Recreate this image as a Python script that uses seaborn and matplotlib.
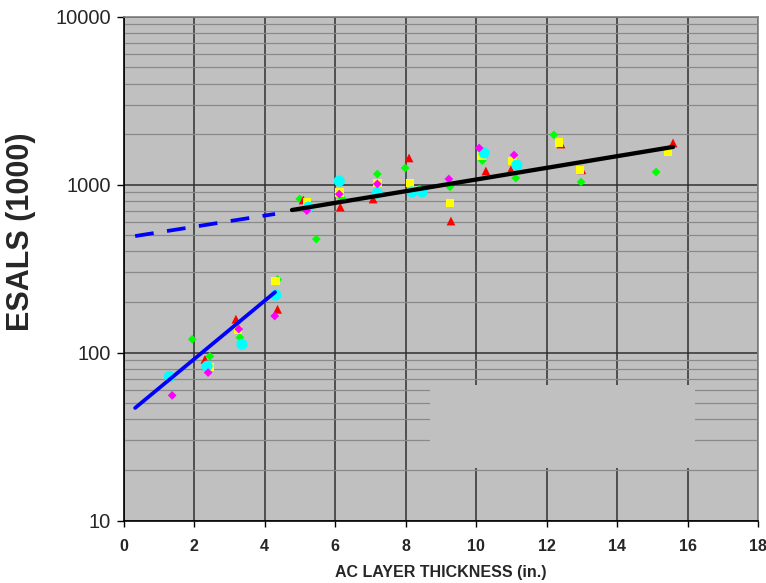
import matplotlib
matplotlib.use("Agg")
import matplotlib.pyplot as plt
import seaborn as sns
import numpy as np
from matplotlib.patches import Rectangle
from matplotlib.ticker import FixedLocator, LogLocator, NullFormatter, FixedFormatter

# ---- data ----
green_x = [1.95, 2.45, 3.30, 4.37, 5.00, 5.47, 6.20, 7.20, 7.99, 8.40, 9.26, 10.18, 11.13, 12.21, 12.98, 15.11]
green_y = [120, 95, 123, 272, 821, 474, 830, 1157, 1256, 940, 970, 1390, 1095, 1977, 1037, 1189]

red_x = [2.31, 3.19, 4.37, 5.10, 6.15, 7.08, 8.10, 9.29, 10.28, 10.99, 12.41, 13.00, 15.59]
red_y = [91, 158, 181, 810, 735, 821, 1442, 607, 1205, 1225, 1745, 1225, 1771]

yellow_x = [2.45, 3.25, 4.32, 5.20, 6.12, 7.20, 8.13, 9.26, 10.15, 11.03, 12.35, 12.95, 15.45]
yellow_y = [82, 136, 266, 780, 900, 1022, 1022, 777, 1480, 1380, 1780, 1225, 1565]

cyan_x = [1.30, 2.37, 3.36, 4.32, 5.25, 6.12, 7.20, 8.18, 8.47, 10.23, 11.16]
cyan_y = [72, 83, 112, 220, 735, 1050, 890, 905, 905, 1543, 1309]

magenta_x = [1.38, 2.40, 3.27, 4.29, 5.20, 6.12, 7.20, 9.23, 10.09, 11.08]
magenta_y = [55.6, 76, 138, 165, 700, 879, 1010, 1080, 1652, 1501]

blue_x = [0.33, 4.30]
blue_y = [46.8, 229]
dash_x = [0.33, 4.30]
dash_y = [494, 669]
black_x = [4.78, 15.59]
black_y = [706, 1677]

x_ticks = [0, 2, 4, 6, 8, 10, 12, 14, 16, 18]
y_ticks = [10, 100, 1000, 10000]
y_tick_labels = ["10", "100", "1000", "10000"]

# ---- figure ----
sns.set_theme(style="white")
plt.rcParams['font.family'] = ['Liberation Sans', 'DejaVu Sans']

fig = plt.figure(figsize=(7.66, 5.83), dpi=100)
ax = fig.add_axes([123.5/766, 1-520.5/583, (758-123.5)/766, (520.5-16.7)/583])
ax.set_facecolor('#C0C0C0')
ax.set_yscale('log')
ax.set_xlim(0, 18)
ax.set_ylim(10, 10000)

series = [
    (green_x, green_y, 'D', '#00FF00', 20),
    (red_x, red_y, '^', '#FF0000', 40),
    (yellow_x, yellow_y, 's', '#FFFF00', 38),
    (cyan_x, cyan_y, 'o', '#00FFFF', 64),
    (magenta_x, magenta_y, 'D', '#FF00FF', 20),
]
for xs, ys, mk, col, s in series:
    sns.scatterplot(x=xs, y=ys, marker=mk, color=col, s=s, edgecolor='none',
                    linewidth=0, ax=ax, zorder=3, legend=False)

sns.lineplot(x=blue_x, y=blue_y, color='#0000FF', linewidth=2.7, ax=ax, zorder=4)
sns.lineplot(x=dash_x, y=dash_y, color='#0000FF', linewidth=2.7, ax=ax, zorder=4,
             dashes=False)
ax.lines[-1].set_dashes((5.0, 3.6))
sns.lineplot(x=black_x, y=black_y, color='#000000', linewidth=3.1, ax=ax, zorder=4)

# grid
ax.xaxis.set_major_locator(FixedLocator(x_ticks))
ax.yaxis.set_major_locator(FixedLocator(y_ticks))
ax.yaxis.set_major_formatter(FixedFormatter(y_tick_labels))
ax.yaxis.set_minor_locator(LogLocator(base=10, subs=np.arange(2, 10)))
ax.yaxis.set_minor_formatter(NullFormatter())
ax.set_axisbelow(True)
ax.grid(True, which='major', axis='both', color='#303030', linewidth=1.1, zorder=0.5)
ax.grid(True, which='minor', axis='y', color='#8a8a8a', linewidth=0.9, zorder=0.5)

# blank legend box
ax.add_patch(Rectangle((8.70, 20.6), 16.21-8.70, 64-20.6, facecolor='#C0C0C0',
                       edgecolor='none', zorder=1))

# spines
ax.spines['left'].set_color('black')
ax.spines['bottom'].set_color('black')
ax.spines['top'].set_color('#808080')
ax.spines['right'].set_color('#808080')
for sp in ax.spines.values():
    sp.set_linewidth(1.2)

ax.tick_params(axis='y', which='major', direction='out', length=5, width=1,
               color='black', pad=4, labelsize=14.5, left=True)
ax.tick_params(axis='y', which='minor', length=0)
ax.tick_params(axis='x', which='major', direction='out', length=4.5, width=1,
               color='black', pad=9, labelsize=11.5, bottom=True)
for lab in ax.get_xticklabels():
    lab.set_fontweight('bold')

ax.set_xlabel('AC LAYER THICKNESS (in.)', fontsize=11.5, fontweight='bold')
ax.xaxis.set_label_coords(0.5, -0.104)
ax.xaxis.label.set_verticalalignment('center')
ax.set_ylabel('ESALS (1000)', fontsize=22, fontweight='bold')
ax.yaxis.set_label_coords(-0.1615, 0.573)
ax.yaxis.label.set_verticalalignment('center')

fig.savefig('out.png', dpi=100)
